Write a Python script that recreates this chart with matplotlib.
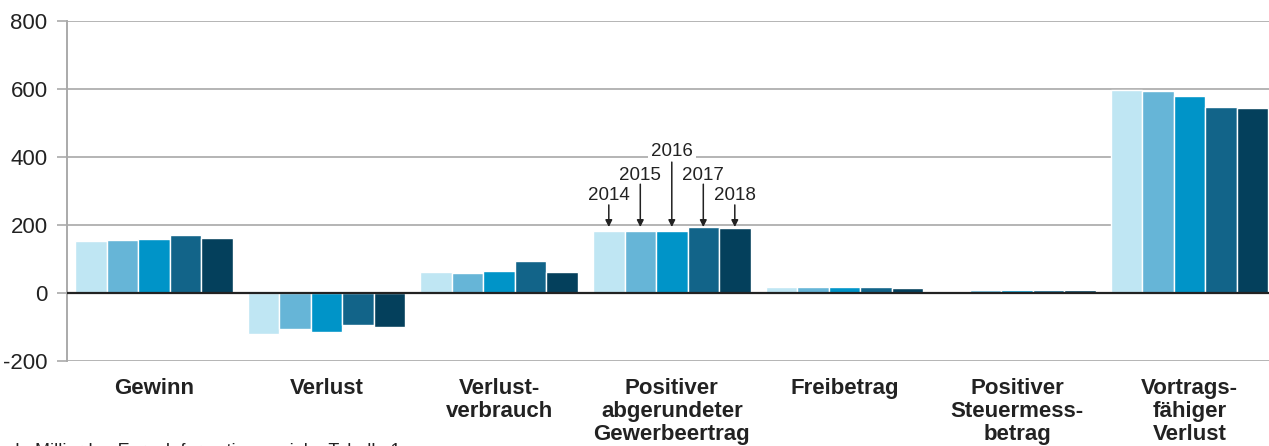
import matplotlib.pyplot as plt
import numpy as np

plt.rcParams['font.family'] = ['Liberation Sans', 'DejaVu Sans']

categories = ['Gewinn', 'Verlust', 'Verlust-\nverbrauch', 'Positiver\nabgerundeter\nGewerbeertrag',
              'Freibetrag', 'Positiver\nSteuermess-\nbetrag', 'Vortrags-\nfähiger\nVerlust']
years = ['2014', '2015', '2016', '2017', '2018']

v2014 = [152, -120, 63, 181, 17, 7, 598]
v2015 = [156, -105, 60, 183, 17, 8, 594]
v2016 = [159, -116, 66, 183, 17, 8, 580]
v2017 = [170, -94, 93, 193, 18, 9, 547]
v2018 = [162, -101, 62, 190, 15, 8, 544]
series = [v2014, v2015, v2016, v2017, v2018]

colors = ['#bfe6f3', '#66b5d7', '#0094c8', '#126489', '#04405c']

fig = plt.figure(figsize=(12.69, 4.46), dpi=100)
ax = fig.add_axes([67 / 1269, 1 - 361 / 446, 1 - 67 / 1269, 340 / 446])

x = np.arange(len(categories))
w = 0.1825
for i, vals in enumerate(series):
    ax.bar(x + (i - 2) * w, vals, width=w, color=colors[i], edgecolor='white',
           linewidth=1.0, zorder=3)

ax.set_ylim(-200, 800)
ax.set_xlim(-0.504, 6.46)
ax.set_yticks([-200, 0, 200, 400, 600, 800])
ax.set_yticklabels(['-200', '0', '200', '400', '600', '800'], fontsize=16, color='#222222')
ax.tick_params(axis='y', length=7, width=1.2, color='#aaaaaa', pad=7)
ax.set_xticks(x)
ax.set_xticklabels(categories, fontsize=16, fontweight='bold', color='#222222',
                   linespacing=1.12)
ax.tick_params(axis='x', length=0, pad=12)

ax.grid(axis='y', color='#b4b4b4', linewidth=1.4, zorder=0)
ax.axhline(0, color='#222222', linewidth=1.6, zorder=4)
for s in ['top', 'right', 'bottom']:
    ax.spines[s].set_visible(False)
ax.spines['left'].set_color('#aaaaaa')
ax.spines['left'].set_linewidth(1.4)

# year annotations on the "Positiver abgerundeter Gewerbeertrag" group
label_y = [288, 347, 415, 347, 288]
arrow_start = [259, 320, 385, 320, 259]
for i, yr in enumerate(years):
    xi = 3 + (i - 2) * w
    ax.text(xi, label_y[i], yr, ha='center', va='center', fontsize=13.5, color='#222222',
            zorder=5, bbox=dict(facecolor='white', edgecolor='none', pad=2))
    ax.annotate('', xy=(xi, 194), xytext=(xi, arrow_start[i]),
                arrowprops=dict(arrowstyle='-|>', color='#222222', lw=1.1,
                                mutation_scale=10, shrinkA=0, shrinkB=0),
                zorder=5)

# footnote, cut off at the lower edge as in the original
fig.text(15 / 1269, 1 - 442 / 446, 'In Milliarden Euro; Informationen siehe Tabelle 1',
         fontsize=13, color='#222222', va='top', ha='left')

fig.savefig('out.png', dpi=100)
